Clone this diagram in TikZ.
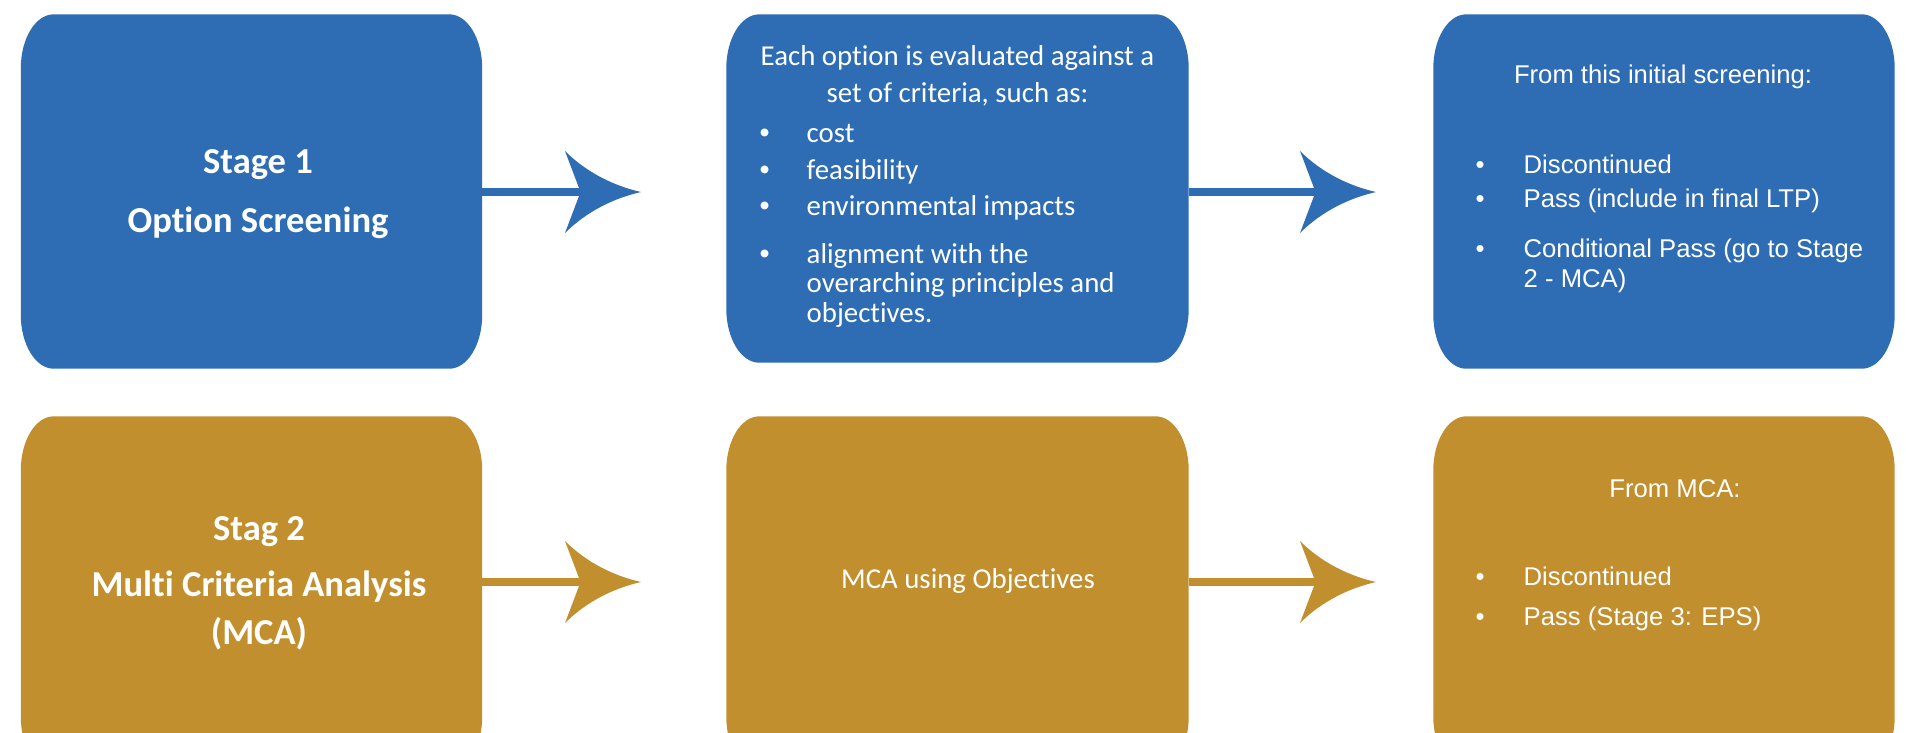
\documentclass[tikz,border=0pt]{standalone}
\usepackage{fontspec}
\setmainfont{Carlito}[Ligatures=NoCommon]
\newfontfamily\listfont{Liberation Sans}
\usepackage{tikz}
\usetikzlibrary{positioning}
\definecolor{stage-one}{RGB}{46,109,180}
\definecolor{stage-two}{RGB}{193,143,46}
\newcommand{\itm}{\makebox[4.7mm][l]{\listfont\textbullet}}
\newcommand{\ritm}{\makebox[4.8mm][l]{\textbullet}}
% box with oval corners, filled behind the named node
\newcommand{\card}[2]{%
  \fill[#2] ([xshift=3.3mm]#1.north west) -- ([xshift=-3.3mm]#1.north east)
    arc[start angle=90, end angle=0, x radius=3.3mm, y radius=5.4mm]
    -- ([yshift=5.4mm]#1.south east)
    arc[start angle=0, end angle=-90, x radius=3.3mm, y radius=5.4mm]
    -- ([xshift=3.3mm]#1.south west)
    arc[start angle=270, end angle=180, x radius=3.3mm, y radius=5.4mm]
    -- ([yshift=-5.4mm]#1.north west)
    arc[start angle=180, end angle=90, x radius=3.3mm, y radius=5.4mm]
    -- cycle;}

\begin{document}
\begin{tikzpicture}[
    box/.style={rectangle, minimum width=4.6cm,
                minimum height=3.53cm, inner sep=0pt},
    title/.style={text=white, inner sep=0pt, text height=6.7pt,
                  text depth=0pt, font=\bfseries\fontsize{10.4}{12}\selectfont},
    crit/.style={text=white, inner sep=0pt, text height=5.3pt,
                 text depth=0pt, font=\fontsize{8.2}{10}\selectfont},
    res/.style={text=white, inner sep=0pt, text height=5.2pt,
                text depth=0pt, font=\listfont\fontsize{7.3}{9}\selectfont},
    link/.style={line width=0.08cm, shorten >=6.1mm},
    flowhead/.pic={
        \fill (0,0) .. controls (-0.35,0.08) and (-0.6,0.25) .. (-0.76,0.41)
              -- (-0.62,0.04) -- (-0.62,-0.04) -- (-0.76,-0.41)
              .. controls (-0.6,-0.25) and (-0.35,-0.08) .. (0,0) -- cycle;
    },
]
\useasboundingbox (0,0) rectangle (19.06,-7.32);
\clip (0,0) rectangle (19.06,-7.32);

% stage 1 row
\node[box] (s1) at (2.515,-1.915) {};
\node[box, minimum width=4.61cm, minimum height=3.47cm] (crit) at (9.575,-1.885) {};
\node[box] (scr) at (16.64,-1.915) {};
\card{s1}{stage-one}
\card{crit}{stage-one}
\card{scr}{stage-one}

\node[title] (t1a) at (2.58,-1.62) {Stage 1};
\node[title] (t1b) at (2.58,-2.21) {Option Screening};

\node[crit] (ca) at (9.575,-0.56) {Each option is evaluated against a};
\node[crit] (cb) at (9.575,-0.93) {set of criteria, such as:};
\node[crit, anchor=west] (c1) at (7.59,-1.33) {\itm cost};
\node[crit, anchor=west] (c2) at (7.59,-1.70) {\itm feasibility};
\node[crit, anchor=west] (c3) at (7.59,-2.06) {\itm environmental impacts};
\node[crit, anchor=west] (c4) at (7.59,-2.54) {\itm alignment with the};
\node[crit, anchor=west] (c4b) at (8.06,-2.83) {overarching principles and};
\node[crit, anchor=west] (c4c) at (8.06,-3.13) {objectives.};

\node[res] (ra) at (16.63,-0.74) {From this initial screening:};
\node[res, anchor=west] (r1) at (14.75,-1.64) {\ritm Discontinued};
\node[res, anchor=west] (r2) at (14.75,-1.98) {\ritm Pass (include in final LTP)};
\node[res, anchor=west] (r3) at (14.75,-2.48) {\ritm Conditional Pass (go to Stage};
\node[res, anchor=west] (r3b) at (15.23,-2.78) {2 - MCA)};

% stage 2 row
\node[box] (s2) at (2.515,-5.935) {};
\node[box, minimum width=4.61cm] (mca) at (9.575,-5.935) {};
\node[box] (out) at (16.64,-5.935) {};
\card{s2}{stage-two}
\card{mca}{stage-two}
\card{out}{stage-two}

\node[title] (t2a) at (2.59,-5.29) {Stag 2};
\node[title] (t2b) at (2.59,-5.85) {Multi Criteria Analysis};
\node[title] (t2c) at (2.59,-6.33) {(MCA)};

\node[crit] (ma) at (9.68,-5.79) {MCA using Objectives};

\node[res] (oa) at (16.75,-4.88) {From MCA:};
\node[res, anchor=west] (o1) at (14.75,-5.76) {\ritm Discontinued};
\node[res, anchor=west] (o2) at (14.75,-6.16) {\ritm Pass (Stage 3: EPS)};

% arrows
\coordinate (h1) at (6.41,-1.92);
\coordinate (h2) at (13.76,-1.92);
\coordinate (h3) at (6.41,-5.82);
\coordinate (h4) at (13.76,-5.82);

\draw[link, stage-one] (h1 -| s1.east) -- (h1);
\pic[stage-one] at (h1) {flowhead};
\draw[link, stage-one] (h2 -| crit.east) -- (h2);
\pic[stage-one] at (h2) {flowhead};
\draw[link, stage-two] (h3 -| s2.east) -- (h3);
\pic[stage-two] at (h3) {flowhead};
\draw[link, stage-two] (h4 -| mca.east) -- (h4);
\pic[stage-two] at (h4) {flowhead};

\end{tikzpicture}
\end{document}
